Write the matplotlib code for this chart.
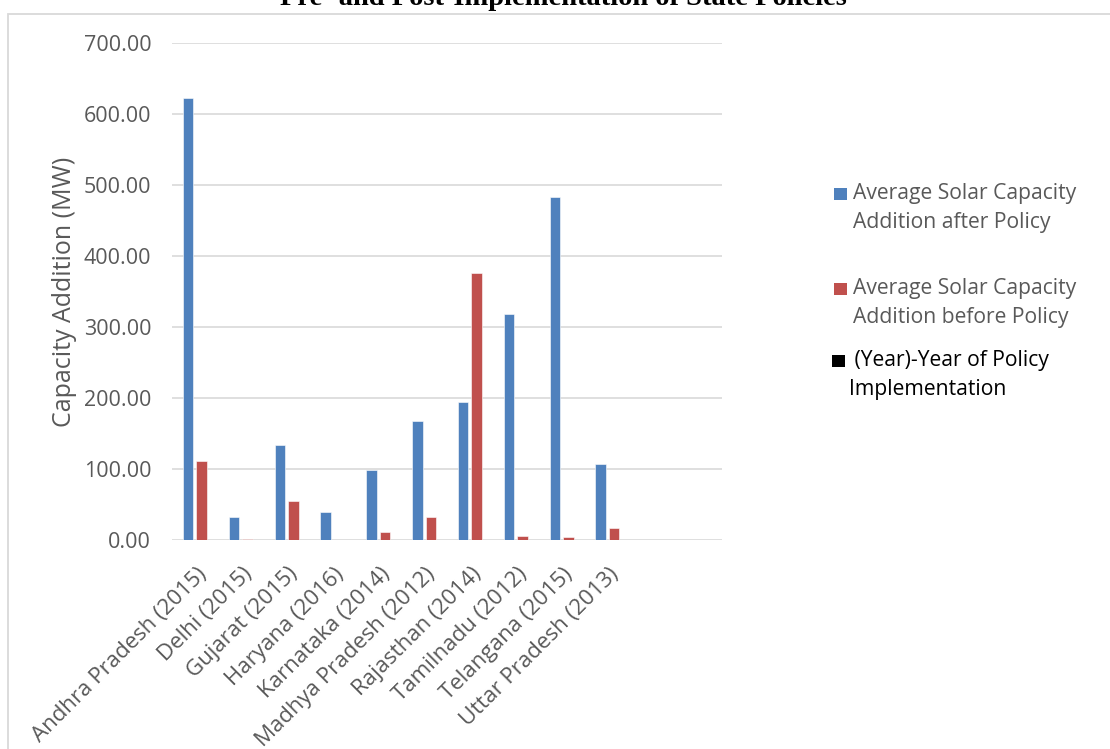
import numpy as np
import matplotlib
matplotlib.use("Agg")
import matplotlib.pyplot as plt
from matplotlib.patches import Rectangle
from matplotlib.transforms import ScaledTranslation

# Data: average solar capacity addition (MW) per state, year of policy in brackets
states = ["Andhra Pradesh (2015)", "Delhi (2015)", "Gujarat (2015)", "Haryana (2016)",
          "Karnataka (2014)", "Madhya Pradesh (2012)", "Rajasthan (2014)",
          "Tamilnadu (2012)", "Telangana (2015)", "Uttar Pradesh (2013)"]
after_policy = [622, 32, 134, 39, 98.6, 167, 195, 318, 483, 106.6]
before_policy = [111, 1, 54.5, 0.5, 10.8, 32, 375.6, 6, 3.8, 17]
yticks = [0, 100, 200, 300, 400, 500, 600, 700]

n_slots = 12  # category slots on the axis (two trailing slots are empty)

BLUE = "#4F81BD"
RED = "#C0504D"
GRID = "#D9D9D9"
TXT = "#595959"
FONT = ["Open Sans", "DejaVu Sans"]

W, H = 1110, 749
fig = plt.figure(figsize=(W / 100, H / 100), dpi=100)
fig.patch.set_facecolor("white")

# outer chart frame
fig.add_artist(Rectangle((8 / W, -0.1), 1.2, 1 - 14 / H + 0.1, transform=fig.transFigure,
                         facecolor="none", edgecolor=GRID, linewidth=1.3))

ax = fig.add_axes([172 / W, (H - 540) / H, 550 / W, 497 / H])
x = np.arange(len(states))
bw = 0.23
off = 0.146
ax.bar(x - off, after_policy, bw, color=BLUE, edgecolor="white", linewidth=0.4, zorder=3)
ax.bar(x + off, before_policy, bw, color=RED, edgecolor="white", linewidth=0.4, zorder=3)

ax.set_ylim(0, 700)
ax.set_yticks(yticks)
ax.set_yticklabels([f"{v:.2f}" for v in yticks], fontsize=15.5, color=TXT, family=FONT)
ax.yaxis.grid(True, color=GRID, linewidth=1.2, zorder=0)
ax.set_axisbelow(True)
for s in ax.spines.values():
    s.set_visible(False)
ax.tick_params(axis="y", length=0, pad=15)
ax.tick_params(axis="x", length=0, pad=17)

ax.set_xticks(x)
ax.set_xticklabels(states, rotation=45, ha="right", va="top", rotation_mode="anchor",
                   fontsize=16, color=TXT, family=FONT)
shift = ScaledTranslation(1 / 100, 0, fig.dpi_scale_trans)
for lab in ax.get_xticklabels():
    lab.set_transform(lab.get_transform() + shift)
ax.set_xlim(-0.5, n_slots - 0.5)

ax.set_ylabel("Capacity Addition (MW)", fontsize=18, color=TXT, family=FONT, labelpad=5)

# title (sits at the very top edge)
fig.text(0.508, 1 - 5 / H, "Pre- and Post-Implementation of State Policies",
         ha="center", va="baseline", fontsize=20.5, fontweight="bold",
         family=["Liberation Serif", "DejaVu Serif"])

# legend, drawn as swatches plus text
legend_items = [
    (BLUE, "Average Solar Capacity\nAddition after Policy", 194, TXT, 853, 834),
    (RED, "Average Solar Capacity\nAddition before Policy", 289, TXT, 853, 834),
    ("black", " (Year)-Year of Policy\nImplementation", 361, "black", 849, 832),
]
for col, label, yc, tcol, tx, sx in legend_items:
    fig.add_artist(Rectangle((sx / W, 1 - (yc + 6) / H), 13 / W, 12 / H,
                             transform=fig.transFigure, facecolor=col, edgecolor="none"))
    fig.text(tx / W, 1 - (yc - 11) / H, label, ha="left", va="top", fontsize=15.2,
             color=tcol, family=FONT, linespacing=1.52)

fig.savefig("out.png", dpi=100)
